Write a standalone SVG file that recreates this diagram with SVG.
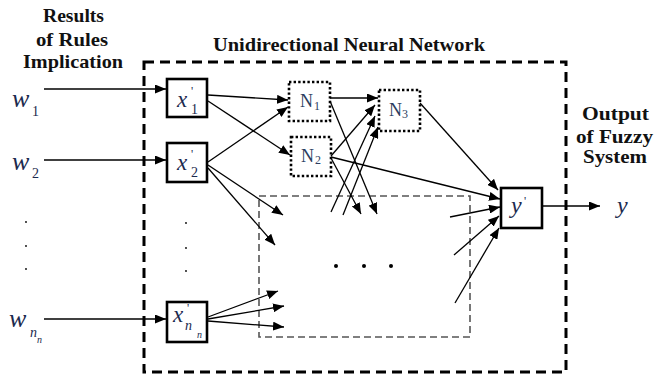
<svg xmlns="http://www.w3.org/2000/svg" width="654" height="376" viewBox="0 0 654 376">
<defs>
<marker id="ah" markerUnits="userSpaceOnUse" markerWidth="11" markerHeight="9" refX="11" refY="4.5" orient="auto">
<path d="M0,0 L11,4.5 L0,9 z" fill="#000"/>
</marker>
<style>
text{font-family:'Liberation Serif','DejaVu Serif',serif}
.hd{font-weight:bold;font-size:19.5px;fill:#111}
.m{font-style:italic;fill:#1b2a4e}
.r{fill:#1b2a4e}
.nl{fill:#2c3e60}
.box{fill:#fff;stroke:#000;stroke-width:2.6}
.dot{fill:#fff;stroke:#000;stroke-width:2.6;stroke-dasharray:2.4 2.2}
.c line{stroke:#000;stroke-width:1.3;marker-end:url(#ah)}
.d{fill:#000}
</style>
</defs>
<rect width="654" height="376" fill="#fff"/>

<g id="outer">
<rect x="144" y="62" width="422" height="310" fill="none" stroke="#000" stroke-width="3" stroke-dasharray="10 6"/>
</g>
<g id="inner">
<rect x="259" y="196" width="211" height="141" fill="none" stroke="#555" stroke-width="1.6" stroke-dasharray="7 4"/>
<circle class="d" cx="336" cy="266" r="2"/>
<circle class="d" cx="364" cy="266" r="2"/>
<circle class="d" cx="391" cy="266" r="2"/>
</g>

<g id="headings" font-family="Liberation Serif, serif">
<text class="hd" x="43" y="22" textLength="61" lengthAdjust="spacingAndGlyphs">Results</text>
<text class="hd" x="36" y="46" textLength="72" lengthAdjust="spacingAndGlyphs">of Rules</text>
<text class="hd" x="23" y="68" textLength="100" lengthAdjust="spacingAndGlyphs">Implication</text>
<text class="hd" x="213" y="51" textLength="272" lengthAdjust="spacingAndGlyphs">Unidirectional Neural Network</text>
<text class="hd" x="582" y="120" textLength="67" lengthAdjust="spacingAndGlyphs">Output</text>
<text class="hd" x="576" y="143" textLength="77" lengthAdjust="spacingAndGlyphs">of Fuzzy</text>
<text class="hd" x="583" y="163" textLength="64" lengthAdjust="spacingAndGlyphs">System</text>
</g>

<g id="inputs">
<text class="m" x="12" y="107" font-size="26">w</text><text class="r" x="32" y="116" font-size="14">1</text>
<text class="m" x="12" y="170" font-size="26">w</text><text class="r" x="32" y="178" font-size="14">2</text>
<text class="m" x="9" y="327" font-size="26">w</text><text class="m" x="30" y="337" font-size="14">n</text><text class="m" x="37" y="343" font-size="10">n</text>
<circle class="d" cx="26" cy="222" r="0.9"/>
<circle class="d" cx="26" cy="246" r="0.9"/>
<circle class="d" cx="26" cy="269" r="0.9"/>
</g>

<g id="x1">
<rect class="box" x="167" y="79" width="40" height="38"/>
<text class="m" x="177" y="107" font-size="23">x</text>
<text class="r" x="191" y="95" font-size="12">'</text>
<text class="r" x="191" y="114" font-size="14">1</text>
</g>
<g id="x2">
<rect class="box" x="167" y="143" width="40" height="39"/>
<text class="m" x="177" y="170" font-size="23">x</text>
<text class="r" x="191" y="158" font-size="12">'</text>
<text class="r" x="191" y="177" font-size="14">2</text>
</g>
<g id="xdots">
<circle class="d" cx="186" cy="223" r="0.9"/>
<circle class="d" cx="186" cy="248" r="0.9"/>
<circle class="d" cx="186" cy="271" r="0.9"/>
</g>
<g id="xnn">
<rect class="box" x="167" y="302" width="40" height="40"/>
<text class="m" x="173" y="322" font-size="23">x</text>
<text class="r" x="187" y="312" font-size="12">'</text>
<text class="m" x="185" y="330" font-size="14">n</text>
<text class="m" x="197" y="338" font-size="10">n</text>
</g>

<g id="N1">
<rect class="dot" x="289" y="82" width="41" height="39"/>
<text class="nl" x="300" y="107" font-size="18">N</text><text class="nl" x="314" y="110" font-size="12">1</text>
</g>
<g id="N2">
<rect class="dot" x="291" y="137" width="40" height="39"/>
<text class="nl" x="301" y="162" font-size="18">N</text><text class="nl" x="315" y="164" font-size="12">2</text>
</g>
<g id="N3">
<rect class="dot" x="379" y="90" width="41" height="41"/>
<text class="nl" x="389" y="116" font-size="18">N</text><text class="nl" x="402" y="118" font-size="12">3</text>
</g>

<g id="yp">
<rect class="box" x="501" y="188" width="41" height="40"/>
<text class="m" x="511" y="213" font-size="24">y</text>
<text class="r" x="524" y="205" font-size="12">'</text>
</g>
<g id="yout">
<text class="m" x="617" y="213" font-size="24">y</text>
</g>

<g id="connectors" class="c">
<line x1="44" y1="89" x2="166" y2="89"/>
<line x1="44" y1="160" x2="166" y2="160"/>
<line x1="44" y1="319" x2="166" y2="319"/>
<line x1="208" y1="95" x2="288" y2="100"/>
<line x1="208" y1="101" x2="290" y2="155"/>
<line x1="208" y1="162" x2="288" y2="107"/>
<line x1="208" y1="165" x2="283" y2="215"/>
<line x1="208" y1="168" x2="275" y2="245"/>
<line x1="208" y1="317" x2="278" y2="291"/>
<line x1="208" y1="319" x2="284" y2="306"/>
<line x1="208" y1="321" x2="284" y2="327"/>
<line x1="330" y1="98" x2="378" y2="98"/>
<line x1="330" y1="101" x2="377" y2="214"/>
<line x1="331" y1="156" x2="375" y2="105"/>
<line x1="331" y1="158" x2="361" y2="214"/>
<line x1="331" y1="157" x2="500" y2="199"/>
<line x1="331" y1="212" x2="375" y2="116"/>
<line x1="343" y1="215" x2="378" y2="127"/>
<line x1="420" y1="103" x2="498" y2="190"/>
<line x1="450" y1="217" x2="500" y2="207"/>
<line x1="454" y1="255" x2="499" y2="216"/>
<line x1="455" y1="303" x2="499" y2="228"/>
<line x1="542" y1="206" x2="600" y2="206"/>
</g>
</svg>
